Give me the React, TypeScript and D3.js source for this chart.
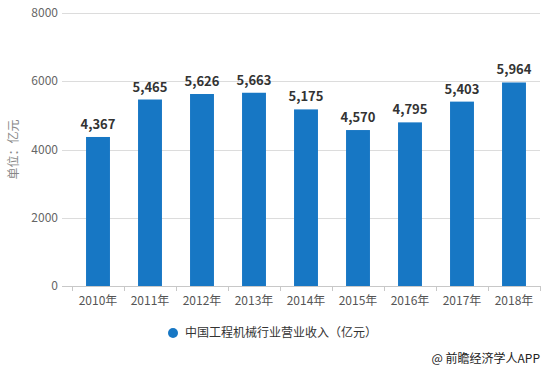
import { useEffect, useRef } from 'react';
import * as d3 from 'd3';

const years = ['2010年', '2011年', '2012年', '2013年', '2014年', '2015年', '2016年', '2017年', '2018年'];
const revenue = [4367, 5465, 5626, 5663, 5175, 4570, 4795, 5403, 5964];
const yTicks = [0, 2000, 4000, 6000, 8000];
const seriesName = '中国工程机械行业营业收入（亿元）';
const yTitle = '单位：亿元';
const source = '@ 前瞻经济学人APP';

export default function App() {
  const svgRef = useRef<SVGSVGElement>(null);

  useEffect(() => {
    if (!svgRef.current) return;
    const svg = d3.select(svgRef.current);
    svg.selectAll('*').remove();

    const width = 546;
    const height = 371;
    const font = '"Noto Sans CJK SC", "Noto Sans", sans-serif';

    svg.attr('width', width).attr('height', height).style('font-family', font);

    const x = d3.scaleBand().domain(years).range([72, 540]).paddingInner(0.54).paddingOuter(0.27);
    const y = d3.scaleLinear().domain([0, 8000]).range([286, 13]);

    // Grid lines
    svg
      .append('g')
      .selectAll('line')
      .data(yTicks)
      .join('line')
      .attr('x1', 62)
      .attr('x2', 540)
      .attr('y1', (d) => Math.round(y(d)) + 0.5)
      .attr('y2', (d) => Math.round(y(d)) + 0.5)
      .attr('stroke', (d) => (d === 0 ? '#c8c8c8' : '#dcdcdc'))
      .attr('stroke-width', 1);

    // Y tick labels
    svg
      .append('g')
      .selectAll('text')
      .data(yTicks)
      .join('text')
      .attr('x', 58)
      .attr('y', (d) => y(d))
      .attr('dy', '0.35em')
      .attr('text-anchor', 'end')
      .attr('font-size', '12px')
      .attr('fill', '#666')
      .text((d) => String(d));

    // Y title
    svg
      .append('text')
      .attr('transform', `translate(18,${y(4000)}) rotate(-90)`)
      .attr('text-anchor', 'middle')
      .attr('font-size', '12px')
      .attr('fill', '#888')
      .text(yTitle);

    // Category boundary ticks
    const step = x.step();
    svg
      .append('g')
      .selectAll('line')
      .data(d3.range(years.length + 1))
      .join('line')
      .attr('x1', (i) => Math.round(72 + i * step) + 0.5)
      .attr('x2', (i) => Math.round(72 + i * step) + 0.5)
      .attr('y1', 286)
      .attr('y2', 291)
      .attr('stroke', '#c8c8c8');

    // Bars
    svg
      .append('g')
      .selectAll('rect')
      .data(revenue)
      .join('rect')
      .attr('x', (_, i) => x(years[i]) as number)
      .attr('y', (d) => y(d))
      .attr('width', x.bandwidth())
      .attr('height', (d) => y(0) - y(d))
      .attr('fill', '#1777c4');

    // Value labels
    svg
      .append('g')
      .selectAll('text')
      .data(revenue)
      .join('text')
      .attr('x', (_, i) => (x(years[i]) as number) + x.bandwidth() / 2)
      .attr('y', (d) => y(d) - 8)
      .attr('text-anchor', 'middle')
      .attr('font-size', '13px')
      .attr('font-weight', 'bold')
      .attr('fill', '#333')
      .text((d) => d3.format(',')(d));

    // X labels
    svg
      .append('g')
      .selectAll('text')
      .data(years)
      .join('text')
      .attr('x', (d) => (x(d) as number) + x.bandwidth() / 2)
      .attr('y', 301)
      .attr('dy', '0.35em')
      .attr('text-anchor', 'middle')
      .attr('font-size', '12px')
      .attr('fill', '#555')
      .text((d) => d);

    // Legend
    svg.append('circle').attr('cx', 173).attr('cy', 333).attr('r', 5).attr('fill', '#1777c4');
    svg
      .append('text')
      .attr('x', 185)
      .attr('y', 333)
      .attr('dy', '0.35em')
      .attr('font-size', '12px')
      .attr('fill', '#333')
      .text(seriesName);

    // Source
    svg
      .append('text')
      .attr('x', 540)
      .attr('y', 359)
      .attr('dy', '0.35em')
      .attr('text-anchor', 'end')
      .attr('font-size', '12px')
      .attr('fill', '#222')
      .text(source);
  }, []);

  return (
    <div style={{ position: 'absolute', left: 0, top: 0 }}>
      <svg ref={svgRef} />
    </div>
  );
}
